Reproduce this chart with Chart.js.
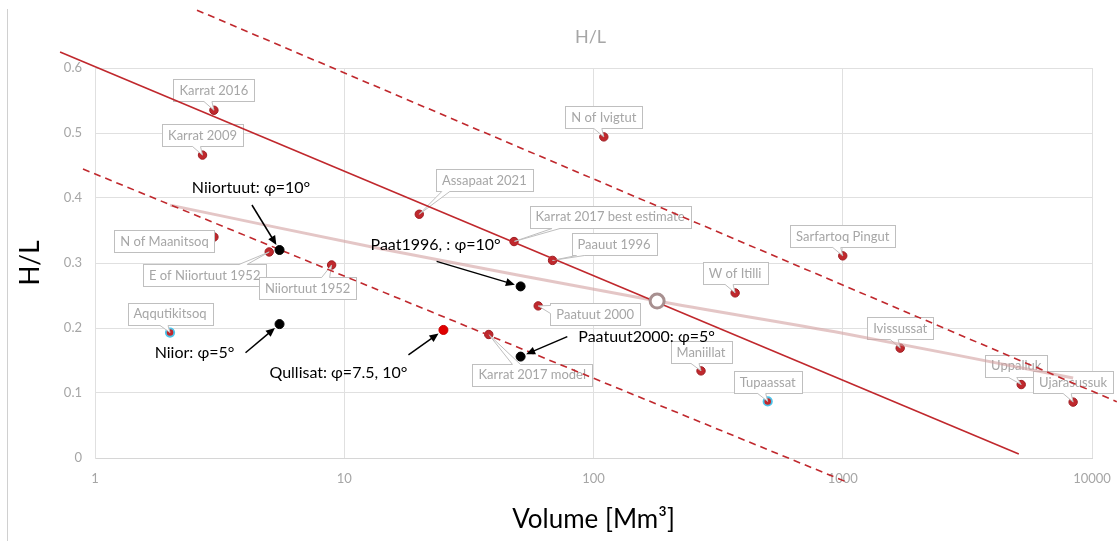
<!DOCTYPE html>
<html><head><meta charset="utf-8">
<script src="https://cdn.jsdelivr.net/npm/chart.js@4.4.1/dist/chart.umd.min.js"></script>
<style>html,body{margin:0;padding:0;background:#fff;} #wrap{width:1117px;height:541px;position:relative;}</style>
</head><body><div id="wrap"><canvas id="c" width="1117" height="541"></canvas></div>
<script>
// ---------------- DATA ----------------
const siteNames = ['Karrat 2016','Karrat 2009','N of Maanitsoq','E of Niiortuut 1952','Niiortuut 1952','Aqqutikitsoq','Assapaat 2021','Karrat 2017 best estimate','Paauut 1996','Paatuut 2000','Karrat 2017 model','N of Ivigtut','Maniillat','W of Itilli','Tupaassat','Sarfartoq Pingut','Ivissussat','Uppalluk','Ujarasussuk'];
const siteVolume = [3.0, 2.7, 3.0, 5.0, 8.9, 2.0, 20, 48, 68.5, 60, 38, 110, 270, 370, 500, 1000, 1700, 5200, 8400];
const siteHL = [0.535, 0.466, 0.340, 0.317, 0.297, 0.193, 0.375, 0.333, 0.304, 0.234, 0.190, 0.494, 0.134, 0.254, 0.087, 0.311, 0.169, 0.113, 0.086];

const modelNames = ['Niiortuut: φ=10°', 'Niior: φ=5°', 'Paat1996, : φ=10°', 'Paatuut2000: φ=5°'];
const modelVolume = [5.5, 5.5, 51, 51];
const modelHL = [0.320, 0.206, 0.264, 0.156];

const qullisatNames = ['Qullisat: φ=7.5, 10°'];
const qullisatVolume = [25];
const qullisatHL = [0.197];

const trendVolume = [2, 14, 180, 1000, 8400];
const trendHL = [0.389, 0.322, 0.2415, 0.192, 0.123];
const trendMarkVolume = [180];
const trendMarkHL = [0.2415];

const fitVolume = [0.724, 5085];
const fitHL = [0.6246, 0.0062];
const upperVolume = [2.565, 12580];
const upperHL = [0.689, 0.0866];
const lowerVolume = [0.895, 1038];
const lowerHL = [0.4446, -0.037];

const xTicks = [1, 10, 100, 1000, 10000];
const yTicks = [0, 0.1, 0.2, 0.3, 0.4, 0.5, 0.6];
const chartTitle = 'H/L';

// ---------------- LAYOUT / STYLE ----------------
const FONT = 'Lato, "Noto Sans", "DejaVu Sans", sans-serif';
Chart.defaults.font.family = FONT;
const cyanRim = new Set(['Aqqutikitsoq', 'Tupaassat']);
// callout box centre offsets (px) from each site point
const labelOffsets = [[0,-20],[0,-20],[-49.5,4],[-64.5,23],[-24,23.5],[0,-19],[65,-34],[96,-25],[61.5,-16],[57,8.5],[43.5,40],[0,-20],[0,-19],[0,-20],[0,-19],[0,-20],[0,-20],[-5,-19],[0,-20]];
// annotation text centre offsets and arrow start offsets (px) from the marked point
const modelTextOffsets = [[-28.5,-62],[-85,29],[-85,-41.7],[126,-20]];
const modelArrowOffsets = [[-27.6,-45],[-34,28.7],[-84,-25],[46.7,-20]];
const qullisatTextOffsets = [[-105,42.7]];
const qullisatArrowOffsets = [[-35,25]];

const pts = (xs, ys) => xs.map((x, i) => ({x: x, y: ys[i]}));
const RED = '#c0282d';

const bgPlugin = {
  id: 'bg',
  beforeDraw(chart) {
    const ctx = chart.ctx;
    ctx.save();
    ctx.fillStyle = '#fff';
    ctx.fillRect(0, 0, chart.width, chart.height);
    ctx.strokeStyle = '#d0d0d0';
    ctx.lineWidth = 1;
    ctx.beginPath();
    ctx.moveTo(7.5, 9); ctx.lineTo(7.5, chart.height);
    ctx.stroke();
    const a = chart.chartArea;
    ctx.fillStyle = '#a6a6a6';
    ctx.font = '18px ' + FONT;
    ctx.textAlign = 'center';
    ctx.textBaseline = 'middle';
    ctx.fillText(chartTitle, (a.left + a.right) / 2 - 3, 37);
    ctx.restore();
  }
};

const clamp = (v, a, b) => Math.max(a, Math.min(b, v));

const calloutPlugin = {
  id: 'callouts',
  afterDatasetDraw(chart, args) {
    if (args.index !== 0) return;
    const ctx = chart.ctx;
    const meta = chart.getDatasetMeta(0);
    ctx.save();
    ctx.font = '13px ' + FONT;
    ctx.lineWidth = 1;
    meta.data.forEach((pt, i) => {
      const off = labelOffsets[i];
      const text = siteNames[i];
      const w = Math.round(ctx.measureText(text).width + 12), h = 22;
      const cx = pt.x + off[0], cy = pt.y + off[1];
      const x0 = Math.round(cx - w / 2) + 0.5, y0 = Math.round(cy - h / 2) + 0.5;
      ctx.fillStyle = '#fff';
      ctx.strokeStyle = '#bfbfbf';
      ctx.fillRect(x0, y0, w, h);
      ctx.strokeRect(x0, y0, w, h);
      let b1, b2, inner1, inner2;
      const hw = 4;
      if (pt.y > y0 + h + 3) {
        const bx = clamp(cx + (pt.x - cx) * 0.5 - 6, x0 + 8, x0 + w - 8);
        b1 = [bx - hw, y0 + h]; b2 = [bx + hw, y0 + h];
        inner1 = [bx - hw, y0 + h - 1.5]; inner2 = [bx + hw, y0 + h - 1.5];
      } else if (pt.y < y0 - 3) {
        const bx = clamp(cx + (pt.x - cx) * 0.5 + 6, x0 + 8, x0 + w - 8);
        b1 = [bx - hw, y0]; b2 = [bx + hw, y0];
        inner1 = [bx - hw, y0 + 1.5]; inner2 = [bx + hw, y0 + 1.5];
      } else if (pt.x > x0 + w + 3) {
        const by = clamp(pt.y, y0 + 6, y0 + h - 6);
        b1 = [x0 + w, by - hw]; b2 = [x0 + w, by + hw];
        inner1 = [x0 + w - 1.5, by - hw]; inner2 = [x0 + w - 1.5, by + hw];
      } else if (pt.x < x0 - 3) {
        const by = clamp(pt.y, y0 + 6, y0 + h - 6);
        b1 = [x0, by - hw]; b2 = [x0, by + hw];
        inner1 = [x0 + 1.5, by - hw]; inner2 = [x0 + 1.5, by + hw];
      }
      if (b1) {
        ctx.beginPath();
        ctx.moveTo(inner1[0], inner1[1]);
        ctx.lineTo(b1[0], b1[1]);
        ctx.lineTo(pt.x, pt.y);
        ctx.lineTo(b2[0], b2[1]);
        ctx.lineTo(inner2[0], inner2[1]);
        ctx.closePath();
        ctx.fillStyle = '#fff';
        ctx.fill();
        ctx.beginPath();
        ctx.moveTo(b1[0], b1[1]);
        ctx.lineTo(pt.x, pt.y);
        ctx.lineTo(b2[0], b2[1]);
        ctx.strokeStyle = '#bfbfbf';
        ctx.stroke();
      }
      ctx.fillStyle = '#a6a6a6';
      ctx.textAlign = 'center';
      ctx.textBaseline = 'middle';
      ctx.fillText(text, cx, cy + 0.5);
    });
    ctx.restore();
  }
};

function drawArrow(ctx, sx, sy, px, py) {
  const dx = sx - px, dy = sy - py;
  const L = Math.hypot(dx, dy);
  const ux = dx / L, uy = dy / L;
  const ex = px + ux * 6, ey = py + uy * 6;
  const hl = 9, hwid = 4;
  ctx.beginPath();
  ctx.moveTo(sx, sy);
  ctx.lineTo(ex + ux * hl * 0.8, ey + uy * hl * 0.8);
  ctx.stroke();
  ctx.beginPath();
  ctx.moveTo(ex, ey);
  ctx.lineTo(ex + ux * hl - uy * hwid, ey + uy * hl + ux * hwid);
  ctx.lineTo(ex + ux * hl + uy * hwid, ey + uy * hl - ux * hwid);
  ctx.closePath();
  ctx.fill();
}

const annotPlugin = {
  id: 'annot',
  afterDraw(chart) {
    const ctx = chart.ctx;
    ctx.save();
    ctx.font = '16px ' + FONT;
    ctx.fillStyle = '#000';
    ctx.strokeStyle = '#000';
    ctx.lineWidth = 1.5;
    ctx.textAlign = 'center';
    ctx.textBaseline = 'middle';
    const groups = [
      {ds: 2, names: modelNames, t: modelTextOffsets, a: modelArrowOffsets},
      {ds: 3, names: qullisatNames, t: qullisatTextOffsets, a: qullisatArrowOffsets}
    ];
    groups.forEach(g => {
      const meta = chart.getDatasetMeta(g.ds);
      meta.data.forEach((p, i) => {
        ctx.fillText(g.names[i], p.x + g.t[i][0], p.y + g.t[i][1]);
        drawArrow(ctx, p.x + g.a[i][0], p.y + g.a[i][1], p.x, p.y);
      });
    });
    ctx.restore();
  }
};

const GRID = '#e0e0e0';
const TICK = '#a6a6a6';

new Chart(document.getElementById('c'), {
  type: 'scatter',
  data: {
    datasets: [
      { label: 'sites', data: pts(siteVolume, siteHL), order: 10,
        pointRadius: 4.2, pointBackgroundColor: RED,
        pointBorderColor: siteNames.map(n => cyanRim.has(n) ? '#4cc4ea' : '#9e1d22'),
        pointBorderWidth: siteNames.map(n => cyanRim.has(n) ? 1.8 : 1) },
      { label: 'trend', type: 'line', data: pts(trendVolume, trendHL), order: 6, clip: false,
        borderColor: 'rgba(210,160,160,0.6)', borderWidth: 3, pointRadius: 0, tension: 0.3, fill: false },
      { label: 'models', data: pts(modelVolume, modelHL), order: 1,
        pointRadius: 4.5, pointBackgroundColor: '#000', pointBorderColor: '#000', pointBorderWidth: 1 },
      { label: 'qullisat', data: pts(qullisatVolume, qullisatHL), order: 1,
        pointRadius: 4.5, pointBackgroundColor: '#e00000', pointBorderColor: '#c80000', pointBorderWidth: 1 },
      { label: 'fit', type: 'line', data: pts(fitVolume, fitHL), order: 4, clip: false,
        borderColor: RED, borderWidth: 1.6, pointRadius: 0, fill: false },
      { label: 'upper', type: 'line', data: pts(upperVolume, upperHL), order: 4, clip: false,
        borderColor: RED, borderWidth: 1.6, borderDash: [7, 5], pointRadius: 0, fill: false },
      { label: 'lower', type: 'line', data: pts(lowerVolume, lowerHL), order: 4, clip: false,
        borderColor: RED, borderWidth: 1.6, borderDash: [7, 5], pointRadius: 0, fill: false },
      { label: 'mark', data: pts(trendMarkVolume, trendMarkHL), order: 0,
        pointRadius: 7, pointBackgroundColor: '#fff', pointBorderColor: '#a89090', pointBorderWidth: 3 }
    ]
  },
  options: {
    responsive: false,
    animation: false,
    events: [],
    layout: { padding: { left: 0, right: 25, top: 68, bottom: 0 } },
    plugins: {
      legend: { display: false },
      tooltip: { enabled: false },
      title: { display: false }
    },
    scales: {
      x: {
        type: 'logarithmic', min: 1, max: 10000,
        afterBuildTicks: s => { s.ticks = xTicks.map(v => ({ value: v })); },
        afterFit: s => { s.height = 83; },
        ticks: { callback: v => String(v), color: TICK, font: { size: 13 }, padding: 6, maxRotation: 0, autoSkip: false },
        grid: { color: GRID, drawTicks: true, tickLength: 7, tickColor: 'rgba(0,0,0,0)' },
        border: { color: '#d6d6d6' },
        title: { display: true, text: 'Volume [Mm³]', color: '#000', font: { size: 26 }, padding: { top: 0, bottom: 6 } }
      },
      y: {
        min: 0, max: 0.6,
        afterBuildTicks: s => { s.ticks = yTicks.map(v => ({ value: v })); },
        afterFit: s => { s.width = 95; },
        ticks: { callback: v => String(+v.toFixed(1)), color: TICK, font: { size: 13 }, padding: 13 },
        grid: { color: GRID, drawTicks: false },
        border: { color: GRID },
        title: { display: true, text: 'H/L', color: '#000', font: { size: 26 }, padding: { top: 15, bottom: 0 } }
      }
    }
  },
  plugins: [bgPlugin, calloutPlugin, annotPlugin]
});
</script>
</body></html>
